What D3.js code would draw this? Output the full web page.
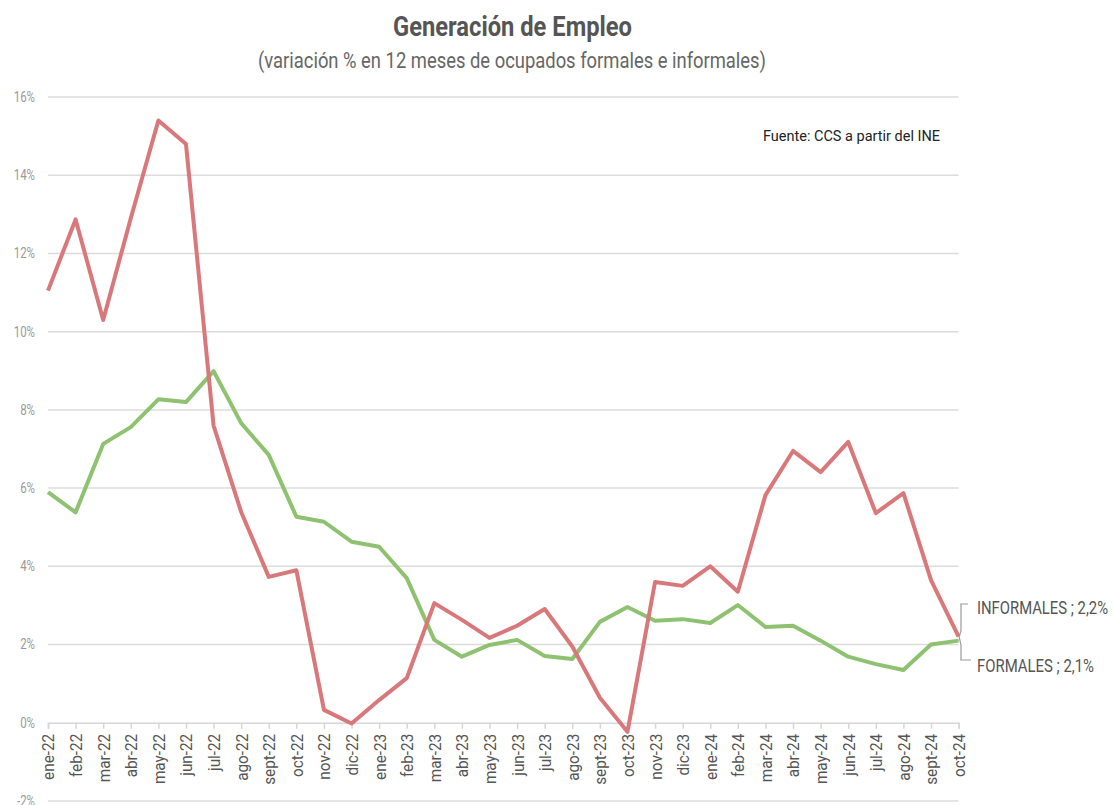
<!DOCTYPE html>
<html>
<head>
<meta charset="utf-8">
<script src="https://cdn.jsdelivr.net/npm/d3@7"></script>
<style>
  body { margin: 0; background: #fff; }
  svg { display: block; font-family: Roboto, "Noto Sans", sans-serif; }
</style>
</head>
<body>
<svg id="chart" width="1114" height="805"></svg>
<script>
// months on the x axis
var months = ["ene-22", "feb-22", "mar-22", "abr-22", "may-22", "jun-22", "jul-22", "ago-22", "sept-22", "oct-22", "nov-22", "dic-22",
  "ene-23", "feb-23", "mar-23", "abr-23", "may-23", "jun-23", "jul-23", "ago-23", "sept-23", "oct-23", "nov-23", "dic-23",
  "ene-24", "feb-24", "mar-24", "abr-24", "may-24", "jun-24", "jul-24", "ago-24", "sept-24", "oct-24"]

// variacion % en 12 meses
var informales = [11.05, 12.87, 10.3, 12.9, 15.4, 14.8, 7.6, 5.39, 3.73, 3.9, 0.33, -0.02,
  0.58, 1.14, 3.06, 2.63, 2.17, 2.48, 2.91, 1.95, 0.64, -0.23, 3.6, 3.5,
  4.0, 3.35, 5.82, 6.95, 6.41, 7.18, 5.36, 5.87, 3.65, 2.2]
var formales = [5.9, 5.38, 7.13, 7.56, 8.27, 8.2, 8.99, 7.66, 6.85, 5.27, 5.14, 4.63,
  4.5, 3.7, 2.12, 1.69, 1.99, 2.12, 1.71, 1.63, 2.58, 2.96, 2.61, 2.65,
  2.55, 3.01, 2.45, 2.48, 2.1, 1.69, 1.5, 1.35, 2.0, 2.1]

var yTicks = [-2, 0, 2, 4, 6, 8, 10, 12, 14, 16]

var svg = d3.select("#chart")

var x = d3.scalePoint().domain(months).range([48, 958.6])
var y = d3.scaleLinear().domain([-2, 16]).range([801, 97])

// the original uses a narrow font, so squeeze the text to a given length
function squeeze(sel, len) {
  sel.attr("textLength", len).attr("lengthAdjust", "spacingAndGlyphs")
}
function squeezeBy(sel, k) {
  sel.each(function () {
    var len = this.getComputedTextLength()
    d3.select(this).call(squeeze, len * k)
  })
}

// title
svg.append("text")
  .attr("x", 393).attr("y", 36)
  .attr("font-size", 27).attr("font-weight", "bold")
  .attr("fill", "#555")
  .text("Generación de Empleo")
  .call(squeeze, 239)

svg.append("text")
  .attr("x", 258).attr("y", 68)
  .attr("font-size", 22)
  .attr("fill", "#666")
  .text("(variación % en 12 meses de ocupados formales e informales)")
  .call(squeeze, 508)

// grid
svg.append("g")
  .selectAll("line")
  .data(yTicks.filter(function (d) { return d !== 0 }))
  .enter().append("line")
  .attr("x1", 48).attr("x2", 958.6)
  .attr("y1", function (d) { return y(d) })
  .attr("y2", function (d) { return y(d) })
  .attr("stroke", "#dcdcdc")
  .attr("stroke-width", 1.5)

// y labels
svg.append("g")
  .selectAll("text")
  .data(yTicks)
  .enter().append("text")
  .attr("x", 35)
  .attr("y", function (d) { return y(d) })
  .attr("dy", "0.35em")
  .attr("text-anchor", "end")
  .attr("font-size", 14)
  .attr("fill", "#999")
  .text(function (d) { return d + "%" })
  .call(squeezeBy, 0.82)

// x axis at 0%
var xAxis = svg.append("g")
  .attr("transform", "translate(0," + y(0) + ")")
  .call(d3.axisBottom(x).tickSize(6).tickPadding(4))
xAxis.select(".domain").attr("stroke", "#d6d6d6").attr("stroke-width", 1.5)
xAxis.selectAll(".tick line").attr("stroke", "#d6d6d6").attr("stroke-width", 1.5)
xAxis.selectAll(".tick text")
  .attr("font-family", "Roboto, sans-serif")
  .attr("font-size", 17)
  .attr("fill", "#555")
  .attr("text-anchor", "end")
  .attr("transform", "rotate(-90)")
  .attr("x", -11).attr("y", 0).attr("dy", "0.35em")
  .call(squeezeBy, 0.9)

// lines
var line = d3.line()
  .x(function (d, i) { return x(months[i]) })
  .y(function (d) { return y(d) })

svg.append("path")
  .datum(formales)
  .attr("d", line)
  .attr("fill", "none")
  .attr("stroke", "#8fc270")
  .attr("stroke-width", 4)
  .attr("stroke-linejoin", "round")

svg.append("path")
  .datum(informales)
  .attr("d", line)
  .attr("fill", "none")
  .attr("stroke", "#d9787a")
  .attr("stroke-width", 4)
  .attr("stroke-linejoin", "round")

// source
svg.append("text")
  .attr("x", 763).attr("y", 141)
  .attr("font-size", 14)
  .attr("fill", "#222")
  .text("Fuente: CCS a partir del INE")
  .call(squeeze, 177)

// end labels with bracket
var lastX = x(months[months.length - 1])
var lastY = y(informales[informales.length - 1])
svg.append("path")
  .attr("d", "M968,604 H961 V631 L" + (lastX + 0.5) + "," + lastY + " L961,645 V660 H971")
  .attr("fill", "none")
  .attr("stroke", "#999")
  .attr("stroke-width", 1.2)

function fmt(v) { return d3.format(".1f")(v).replace(".", ",") + "%" }

svg.append("text")
  .attr("x", 977).attr("y", 614)
  .attr("font-size", 19)
  .attr("fill", "#555")
  .text("INFORMALES ; " + fmt(informales[informales.length - 1]))
  .call(squeeze, 131)

svg.append("text")
  .attr("x", 977).attr("y", 672)
  .attr("font-size", 19)
  .attr("fill", "#555")
  .text("FORMALES ; " + fmt(formales[formales.length - 1]))
  .call(squeeze, 117)
</script>
</body>
</html>
